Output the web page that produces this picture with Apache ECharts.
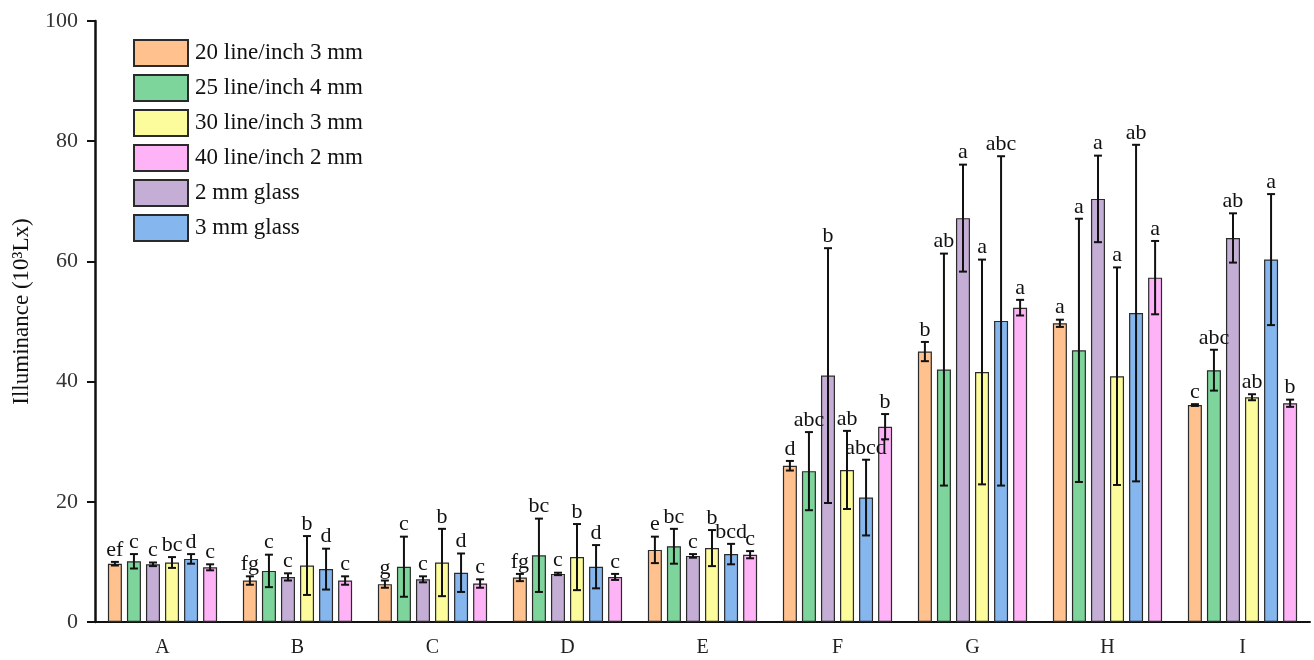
<!DOCTYPE html>
<html>
<head>
<meta charset="utf-8">
<script src="https://cdn.jsdelivr.net/npm/echarts@6/dist/echarts.min.js"></script>
<style>
  html, body { margin: 0; padding: 0; background: #fff; }
  #chart { width: 1314px; height: 660px; }
</style>
</head>
<body>
<div id="chart"></div>
<script>
// Sampling positions
const categories = ['A', 'B', 'C', 'D', 'E', 'F', 'G', 'H', 'I'];

// Mean illuminance (10^3 Lx) per cover
const mesh20mm3 = [9.7, 6.9, 6.3, 7.4, 12.0, 26.0, 45.0, 49.7, 36.1];
const mesh25mm4 = [10.1, 8.5, 9.2, 11.1, 12.6, 25.1, 42.0, 45.2, 41.9];
const glass2mm  = [9.6, 7.5, 7.1, 8.0, 11.0, 41.0, 67.2, 70.4, 63.9];
const mesh30mm3 = [9.9, 9.4, 9.9, 10.8, 12.3, 25.3, 41.6, 40.9, 37.4];
const glass3mm  = [10.5, 8.8, 8.2, 9.2, 11.3, 20.7, 50.1, 51.4, 60.3];
const mesh40mm2 = [9.1, 6.9, 6.4, 7.5, 11.2, 32.5, 52.3, 57.3, 36.4];

// Standard deviations
const err20mm3 = [0.3, 0.7, 0.6, 0.6, 2.2, 0.8, 1.6, 0.6, 0.15];
const err25mm4 = [1.2, 2.7, 5.0, 6.1, 2.9, 6.5, 19.3, 21.9, 3.4];
const errG2mm  = [0.3, 0.6, 0.5, 0.2, 0.3, 21.2, 8.9, 7.2, 4.1];
const err30mm3 = [0.9, 4.9, 5.6, 5.5, 3.0, 6.5, 18.7, 18.1, 0.5];
const errG3mm  = [0.8, 3.4, 3.2, 3.6, 1.7, 6.3, 27.4, 28.0, 10.9];
const err40mm2 = [0.5, 0.7, 0.7, 0.5, 0.6, 2.1, 1.3, 6.1, 0.6];

// Significance letters
const sig20mm3 = ['ef', 'fg', 'g', 'fg', 'e', 'd', 'b', 'a', 'c'];
const sig25mm4 = ['c', 'c', 'c', 'bc', 'bc', 'abc', 'ab', 'a', 'abc'];
const sigG2mm  = ['c', 'c', 'c', 'c', 'c', 'b', 'a', 'a', 'ab'];
const sig30mm3 = ['bc', 'b', 'b', 'b', 'b', 'ab', 'a', 'a', 'ab'];
const sigG3mm  = ['d', 'd', 'd', 'd', 'bcd', 'abcd', 'abc', 'ab', 'a'];
const sig40mm2 = ['c', 'c', 'c', 'c', 'c', 'b', 'a', 'a', 'b'];

const yTicks = { min: 0, max: 100, interval: 20 };
const yTitle = 'Illuminance (10\u00B3Lx)';

// Bars in drawing order inside each group
const groups = [
  { name: '20 line/inch 3 mm', values: mesh20mm3, errs: err20mm3, sig: sig20mm3, color: '#FFC18E' },
  { name: '25 line/inch 4 mm', values: mesh25mm4, errs: err25mm4, sig: sig25mm4, color: '#7ED59B' },
  { name: '2 mm glass',        values: glass2mm,  errs: errG2mm,  sig: sigG2mm,  color: '#C4AED6' },
  { name: '30 line/inch 3 mm', values: mesh30mm3, errs: err30mm3, sig: sig30mm3, color: '#FDFC9C' },
  { name: '3 mm glass',        values: glass3mm,  errs: errG3mm,  sig: sigG3mm,  color: '#86B6EE' },
  { name: '40 line/inch 2 mm', values: mesh40mm2, errs: err40mm2, sig: sig40mm2, color: '#FEB3F6' }
];
const legendOrder = ['20 line/inch 3 mm', '25 line/inch 4 mm', '30 line/inch 3 mm',
                     '40 line/inch 2 mm', '2 mm glass', '3 mm glass'];

const FONT = '"Liberation Serif", "Times New Roman", serif';
const BAR_W = 14;
const BAR_GAP = 0.36;
const PITCH = BAR_W * (1 + BAR_GAP);
const nBars = groups.length;

const series = [];
groups.forEach((g, i) => {
  series.push({
    name: g.name,
    type: 'bar',
    data: g.values,
    barWidth: BAR_W,
    barGap: (BAR_GAP * 100) + '%',
    itemStyle: { color: g.color, borderColor: '#2a2a2a', borderWidth: 1.2 },
    emphasis: { disabled: true },
    z: 2
  });
});

groups.forEach((g, i) => {
  const offset = (i - (nBars - 1) / 2) * PITCH;
  series.push({
    name: g.name + ' SD',
    type: 'custom',
    z: 5,
    silent: true,
    data: g.values.map((v, k) => [k, v, g.errs[k]]),
    renderItem: function (params, api) {
      const k = api.value(0), v = api.value(1), e = api.value(2);
      const x = api.coord([k, v])[0] + offset;
      const yTop = api.coord([k, v + e])[1];
      const yBot = api.coord([k, v - e])[1];
      const cap = 4;
      const st = { stroke: '#111', lineWidth: 2 };
      return {
        type: 'group',
        children: [
          { type: 'line', shape: { x1: x, y1: yTop, x2: x, y2: yBot }, style: st },
          { type: 'line', shape: { x1: x - cap, y1: yTop, x2: x + cap, y2: yTop }, style: st },
          { type: 'line', shape: { x1: x - cap, y1: yBot, x2: x + cap, y2: yBot }, style: st },
          {
            type: 'text',
            x: x, y: yTop - 1,
            style: {
              text: g.sig[k],
              fill: '#111',
              font: '22px ' + FONT,
              align: 'center',
              verticalAlign: 'bottom'
            }
          }
        ]
      };
    }
  });
});

const chart = echarts.init(document.getElementById('chart'), null, { renderer: 'canvas' });
chart.setOption({
  backgroundColor: '#fff',
  animation: false,
  grid: { left: 95, right: 4, top: 21, bottom: 38, containLabel: false },
  legend: {
    data: legendOrder,
    orient: 'vertical',
    left: 133,
    top: 39,
    padding: 0,
    icon: 'rect',
    itemWidth: 54,
    itemHeight: 26,
    itemGap: 7,
    selectedMode: false,
    textStyle: { fontFamily: FONT, fontSize: 23, color: '#111', padding: [0, 0, 0, 2] }
  },
  xAxis: {
    type: 'category',
    data: categories,
    axisLine: { lineStyle: { color: '#111', width: 2 } },
    axisTick: { alignWithLabel: true, length: 8, lineStyle: { color: '#111', width: 2 } },
    axisLabel: { fontFamily: FONT, fontSize: 20, color: '#222', margin: 16 },
    splitLine: { show: false }
  },
  yAxis: {
    type: 'value',
    min: yTicks.min,
    max: yTicks.max,
    interval: yTicks.interval,
    name: yTitle,
    nameLocation: 'middle',
    nameGap: 62,
    nameRotate: 90,
    nameTextStyle: { fontFamily: FONT, fontSize: 23, color: '#111', padding: [0, 0, 0, 20] },
    axisLine: { show: true, lineStyle: { color: '#111', width: 2.5 } },
    axisTick: { show: true, length: 8, lineStyle: { color: '#111', width: 2 } },
    axisLabel: { fontFamily: FONT, fontSize: 22, color: '#333', margin: 17 },
    splitLine: { show: false }
  },
  series: series
});
</script>
</body>
</html>
